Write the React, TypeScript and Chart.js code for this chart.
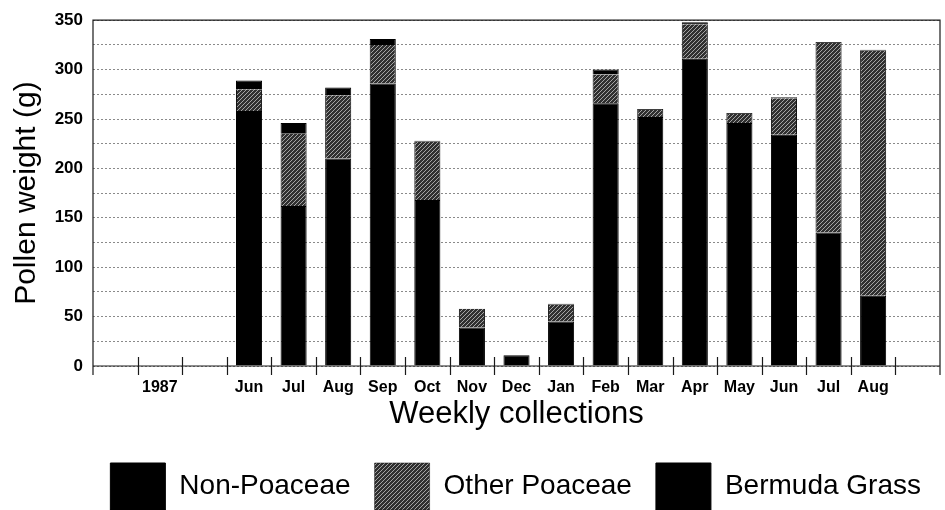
import React, { useEffect, useRef } from 'react';
import { Chart, registerables } from 'chart.js';

Chart.register(...registerables);

// ---- data ----
const categories = ['', '1987', '', 'Jun', 'Jul', 'Aug', 'Sep', 'Oct', 'Nov', 'Dec', 'Jan', 'Feb', 'Mar', 'Apr', 'May', 'Jun', 'Jul', 'Aug', ''];
const nonPoaceae = [null, null, null, 258, 162, 210, 286, 168, 39, 11, 45, 266, 252, 311, 246, 234, 135, 71, null];
const otherPoaceae = [null, null, null, 22, 73, 64, 39, 59, 19, 0, 17, 29, 7, 35, 9, 37, 192, 248, null];
const bermudaGrass = [null, null, null, 9, 11, 8, 6, 1, 0, 0, 1, 5, 1, 2, 1, 1, 1, 1, null];
const seriesNames = ['Non-Poaceae', 'Other Poaceae', 'Bermuda Grass'];
const yMin = 0;
const yMax = 350;
const yGridStep = 25;
const yLabelStep = 50;
const yTitle = 'Pollen weight (g)';
const xTitle = 'Weekly collections';

const FONT = '"Liberation Sans", Arial, Helvetica, sans-serif';

function makeHatch(): CanvasPattern | string {
  const c = document.createElement('canvas');
  c.width = 4;
  c.height = 4;
  const g = c.getContext('2d');
  if (!g) return '#555';
  g.fillStyle = '#303030';
  g.fillRect(0, 0, 4, 4);
  g.strokeStyle = '#a4a4a4';
  g.lineWidth = 1;
  g.beginPath();
  g.moveTo(0, 4);
  g.lineTo(4, 0);
  g.moveTo(-1, 1);
  g.lineTo(1, -1);
  g.moveTo(3, 5);
  g.lineTo(5, 3);
  g.stroke();
  return g.createPattern(c, 'repeat') || '#555';
}

const framePlugin = {
  id: 'frame',
  afterDatasetsDraw(chart: any) {
    const { ctx, chartArea, scales } = chart;
    const { left, right, top, bottom } = chartArea;
    const x = scales.x;
    const tick = 9;
    ctx.save();
    ctx.strokeStyle = '#1a1a1a';
    ctx.lineWidth = 1.2;
    ctx.beginPath();
    ctx.moveTo(left, bottom + tick);
    ctx.lineTo(left, top);
    ctx.lineTo(right, top);
    ctx.lineTo(right, bottom + tick);
    ctx.moveTo(left, bottom);
    ctx.lineTo(right, bottom);
    const n = chart.data.labels.length;
    for (let i = 1; i < n; i++) {
      const px = Math.round((x.getPixelForValue(i - 1) + x.getPixelForValue(i)) / 2) + 0.5;
      ctx.moveTo(px, bottom - tick);
      ctx.lineTo(px, bottom + tick);
    }
    ctx.stroke();
    ctx.restore();
  },
};

export default function App() {
  const ref = useRef<HTMLCanvasElement | null>(null);

  useEffect(() => {
    if (!ref.current) return;
    const hatch = makeHatch();
    const chart = new Chart(ref.current, {
      type: 'bar',
      data: {
        labels: categories,
        datasets: [
          { label: seriesNames[0], data: nonPoaceae as any, backgroundColor: '#000', borderColor: '#000', borderWidth: 1 },
          { label: seriesNames[1], data: otherPoaceae as any, backgroundColor: hatch as any, borderColor: '#111', borderWidth: { left: 1, right: 1, top: 0, bottom: 0 } as any, borderSkipped: false as any },
          { label: seriesNames[2], data: bermudaGrass as any, backgroundColor: '#000', borderColor: '#000', borderWidth: 1 },
        ],
      },
      options: {
        animation: false,
        responsive: true,
        maintainAspectRatio: false,
        layout: { padding: { left: 0, right: 0, top: 18, bottom: -10 } },
        datasets: { bar: { barPercentage: 0.585, categoryPercentage: 1.0 } },
        plugins: {
          tooltip: { enabled: false },
          legend: {
            position: 'bottom',
            align: 'end',
            labels: {
              boxWidth: 55,
              boxHeight: 47,
              padding: 24,
              color: '#000',
              font: { family: FONT, size: 28 },
            },
          },
        },
        scales: {
          x: {
            stacked: true,
            grid: { display: false, drawTicks: false },
            border: { display: false },
            ticks: {
              autoSkip: false,
              maxRotation: 0,
              padding: 12,
              color: '#000',
              font: { family: FONT, size: 16, weight: 'bold' },
            },
            title: {
              display: true,
              text: xTitle,
              color: '#000',
              font: { family: FONT, size: 31 },
              padding: { top: 0, bottom: 6 },
            },
            afterFit: (s: any) => { s.height = 73; },
          },
          y: {
            stacked: true,
            min: yMin,
            max: yMax,
            grid: { color: '#8a8a8a', lineWidth: 1, drawTicks: false },
            border: { display: false, dash: [2, 2] },
            ticks: {
              stepSize: yGridStep,
              padding: 10,
              color: '#000',
              font: { family: FONT, size: 17, weight: 'bold' },
              callback: (v: any) => (Number(v) % yLabelStep === 0 ? String(v) : ''),
            },
            title: {
              display: true,
              text: yTitle,
              color: '#000',
              font: { family: FONT, size: 30 },
              padding: { top: 9, bottom: 0 },
            },
            afterFit: (s: any) => { s.width = 93; },
          },
          yRight: {
            type: 'linear',
            position: 'right',
            display: true,
            grid: { display: false, drawTicks: false },
            border: { display: false },
            ticks: { display: false },
            afterFit: (s: any) => { s.width = 5; },
          },
        },
      },
      plugins: [framePlugin],
    });
    return () => chart.destroy();
  }, []);

  return (
    <div style={{ position: 'absolute', left: 0, top: 0, width: 945, height: 510, background: '#fff' }}>
      <canvas ref={ref} />
    </div>
  );
}
